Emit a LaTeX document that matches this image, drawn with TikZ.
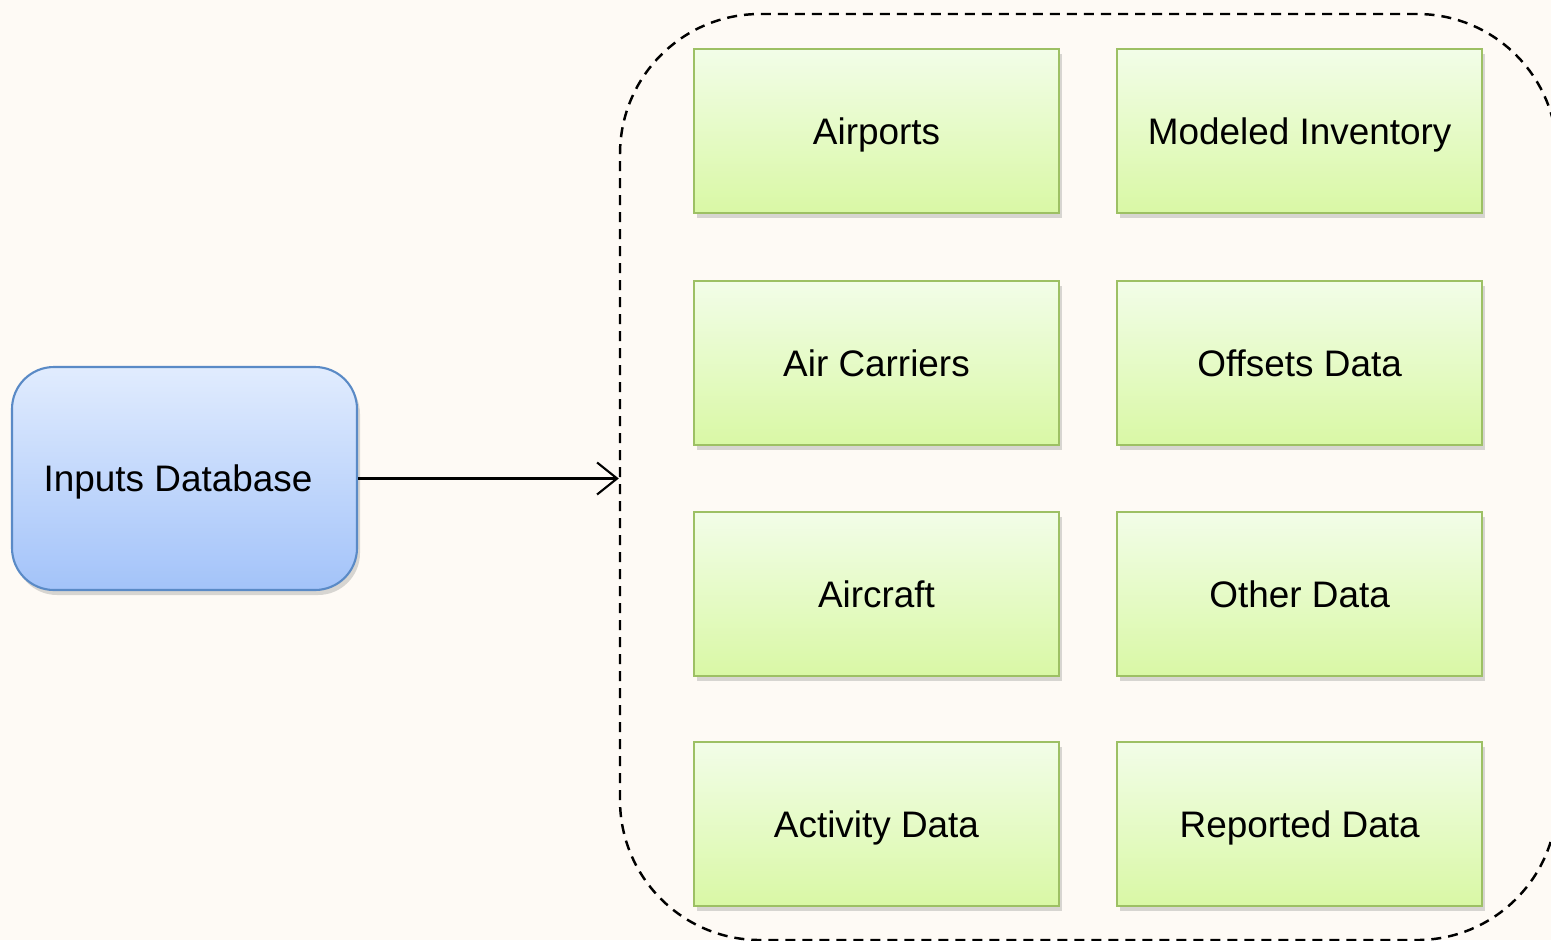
\documentclass[tikz,border=0pt]{standalone}
\usepackage{fontspec}
\setmainfont{Liberation Sans}
\usepackage{xcolor}
\usepackage{tikz}
\usetikzlibrary{positioning,calc,shadows,arrows.meta}
\definecolor{bgcream}{HTML}{FEFAF5}
\definecolor{dbtop}{HTML}{E1ECFE}
\definecolor{dbbot}{HTML}{A3C3F9}
\definecolor{dbedge}{HTML}{5A8AC6}
\definecolor{intop}{HTML}{F2FDE8}
\definecolor{inbot}{HTML}{D9F8A5}
\definecolor{inedge}{HTML}{9DC064}

\begin{document}
\begin{tikzpicture}[
  dbbox/.style={draw=dbedge, line width=0.6pt, top color=dbtop, bottom color=dbbot, rounded corners=0.42cm, minimum width=3.45cm, minimum height=2.23cm, text height=9.5pt, text depth=2pt, font=\fontsize{10.5}{12.6}\selectfont, drop shadow={shadow xshift=0.03cm, shadow yshift=-0.05cm, opacity=0.3}},
  inbox/.style={draw=inedge, line width=0.6pt, top color=intop, bottom color=inbot, minimum width=3.65cm, minimum height=1.64cm, text height=9.5pt, text depth=2pt, font=\fontsize{10.5}{12.6}\selectfont, drop shadow={shadow xshift=0.03cm, shadow yshift=-0.05cm, opacity=0.3}},
  grpbox/.style={draw, dash pattern=on 0.1cm off 0.07cm, line width=0.7pt, rounded corners=1.4cm, minimum width=9.37cm, minimum height=9.26cm},
  flow/.style={-{Straight Barb[length=0.2cm,width=0.32cm]}, line width=0.6pt},
]
\fill[bgcream] (0,0) rectangle (15.51,9.40);
\useasboundingbox (0,0) rectangle (15.51,9.40);
\node[grpbox] (grp) at (10.885,4.63) {};
\node[dbbox] (db) at (1.845,4.615) {Inputs Database\kern0.13cm};
\node[inbox] (airp) at (8.765,8.09) {Airports};
\node[inbox, right=0.56cm of airp] (model) {Modeled Inventory};
\node[inbox, below=0.66cm of airp]  (carr)  {Air Carriers};
\node[inbox, right=0.56cm of carr]  (offs)  {Offsets Data};
\node[inbox, below=0.65cm of carr]  (acft)  {Aircraft};
\node[inbox, right=0.56cm of acft]  (other) {Other Data};
\node[inbox, below=0.64cm of acft]  (actv)  {Activity Data};
\node[inbox, right=0.56cm of actv]  (rept)  {Reported Data};
\draw[flow] (db.east) -- (db.east -| grp.west);
\end{tikzpicture}
\end{document}
